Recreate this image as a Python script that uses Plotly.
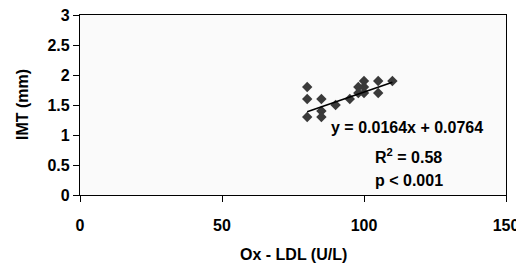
import plotly.graph_objects as go

ox_ldl = [80, 80, 80, 85, 85, 85, 90, 95, 98, 98, 100, 100, 100, 105, 105, 110]
imt = [1.8, 1.6, 1.3, 1.6, 1.4, 1.3, 1.5, 1.6, 1.8, 1.7, 1.9, 1.8, 1.7, 1.9, 1.7, 1.9]
slope = 0.0164
intercept = 0.0764
x_ticks = [0, 50, 100, 150]
y_ticks = [0, 0.5, 1, 1.5, 2, 2.5, 3]
y_tick_text = ["0", "0.5", "1", "1.5", "2", "2.5", "3"]

fnt = dict(family="Liberation Sans, Arial, sans-serif", size=16, color="black", weight="bold")

fit_x = [min(ox_ldl), max(ox_ldl)]
fit_y = [slope * v + intercept for v in fit_x]

fig = go.Figure()
fig.add_trace(go.Scatter(x=ox_ldl, y=imt, mode="markers",
                         marker=dict(symbol="diamond", size=8, color="#3a3a3a"),
                         showlegend=False))
fig.add_trace(go.Scatter(x=fit_x, y=fit_y, mode="lines",
                         line=dict(color="black", width=1.6), showlegend=False))

# page body has an 8px margin, so the figure is shrunk by 8px and margins offset
fig.update_layout(
    width=516, height=260,
    margin=dict(l=72, r=18, t=7, b=73, autoexpand=False),
    paper_bgcolor="white", plot_bgcolor="#fafafa",
    font=fnt,
    annotations=[
        dict(x=115.3, y=1.117, xref="x", yref="y", text="y = 0.0164x + 0.0764",
             showarrow=False, font=fnt, xanchor="center", yanchor="middle"),
        dict(x=103.1, y=0.65, xref="x", yref="y", text="R<sup>2</sup> = 0.58",
             showarrow=False, font=fnt, xanchor="left", yanchor="middle"),
        dict(x=103.1, y=0.25, xref="x", yref="y", text="p < 0.001",
             showarrow=False, font=fnt, xanchor="left", yanchor="middle"),
        dict(x=0.5, y=(195 - 254) / 180, xref="paper", yref="paper", text="Ox - LDL (U/L)",
             showarrow=False, font=fnt, xanchor="center", yanchor="middle"),
        dict(x=(22 - 80) / 426, y=0.5, xref="paper", yref="paper", text="IMT (mm)", textangle=-90,
             showarrow=False, font=fnt, xanchor="center", yanchor="middle"),
    ],
)

fig.update_xaxes(range=[0, 150], tickvals=x_ticks, showgrid=False, zeroline=False,
                 showline=True, linecolor="black", linewidth=1.3, mirror=True,
                 ticks="outside", ticklen=6, tickcolor="black", tickwidth=1,
                 ticklabelstandoff=10, ticklabeloverflow="allow", automargin=False, tickfont=fnt)
fig.update_yaxes(range=[0, 3], tickvals=y_ticks, ticktext=y_tick_text, showgrid=False,
                 zeroline=False, showline=True, linecolor="black", linewidth=1.3, mirror=True,
                 ticks="outside", ticklen=6, tickcolor="black", tickwidth=1,
                 ticklabeloverflow="allow", automargin=False, tickfont=fnt)

fig.write_html("out.html")
